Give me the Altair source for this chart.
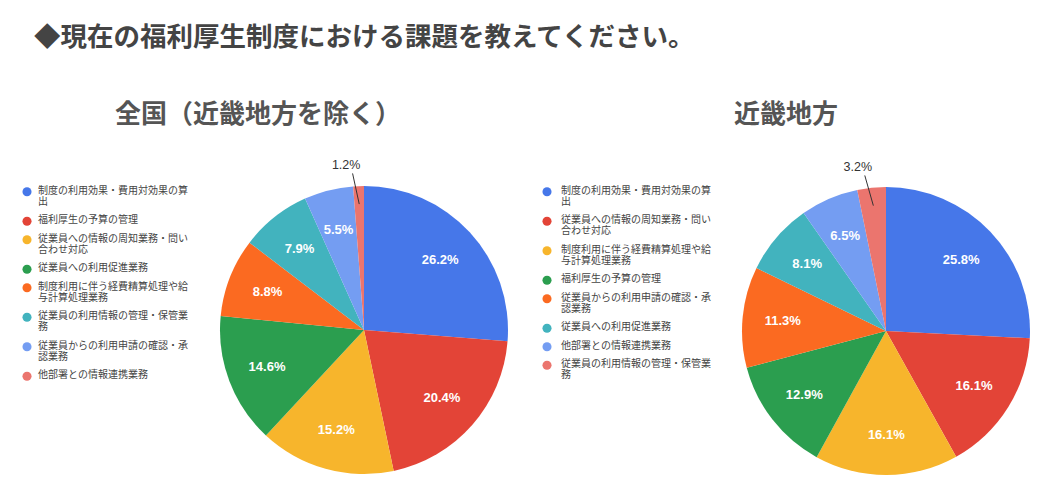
import altair as alt
import pandas as pd

title_text = "◆現在の福利厚生制度における課題を教えてください。"
subtitle_left = "全国（近畿地方を除く）"
subtitle_right = "近畿地方"

left_categories = [
    "制度の利用効果・費用対効果の算\n出",
    "福利厚生の予算の管理",
    "従業員への情報の周知業務・問い\n合わせ対応",
    "従業員への利用促進業務",
    "制度利用に伴う経費精算処理や給\n与計算処理業務",
    "従業員の利用情報の管理・保管業\n務",
    "従業員からの利用申請の確認・承\n認業務",
    "他部署との情報連携業務",
]
left_values = [26.2, 20.4, 15.2, 14.6, 8.8, 7.9, 5.5, 1.2]

right_categories = [
    "制度の利用効果・費用対効果の算\n出",
    "従業員への情報の周知業務・問い\n合わせ対応",
    "制度利用に伴う経費精算処理や給\n与計算処理業務",
    "福利厚生の予算の管理",
    "従業員からの利用申請の確認・承\n認業務",
    "従業員への利用促進業務",
    "他部署との情報連携業務",
    "従業員の利用情報の管理・保管業\n務",
]
right_values = [25.8, 16.1, 16.1, 12.9, 11.3, 8.1, 6.5, 3.2]

slice_colors = ["#4677e9", "#e34437", "#f7b52c", "#2b9e4f", "#fb6a21", "#42b3be", "#749df2", "#eb756e"]

FONT_JP = "Noto Sans CJK JP"
FONT_NUM = "Liberation Sans"


def make_df(cats, vals):
    return pd.DataFrame({
        "i": list(range(len(cats))),
        "cat": cats,
        "v": vals,
        "col": slice_colors[:len(cats)],
    })


def pie(cats, vals, cx, cy, r):
    df = make_df(cats, vals)
    base = alt.Chart(df).encode(
        theta=alt.Theta("v:Q", stack=True),
        order=alt.Order("i:Q", sort="ascending"),
    )
    arcs = base.mark_arc(radius=r).encode(
        x=alt.value(cx), y=alt.value(cy),
        color=alt.Color("col:N", scale=None),
    )
    labels = base.transform_calculate(
        lab="datum.v >= 5 ? format(datum.v, '.1f') + '%' : ''"
    ).mark_text(
        radius=r * 0.72, font=FONT_NUM, fontSize=13, fontWeight="bold", color="white"
    ).encode(x=alt.value(cx), y=alt.value(cy), text="lab:N")

    small = alt.Chart(df).transform_window(
        cum="sum(v)", sort=[alt.SortField("i")], frame=[None, 0]
    ).transform_joinaggregate(
        tot="sum(v)"
    ).transform_calculate(
        mid="2*PI*(datum.cum - datum.v/2)/datum.tot"
    ).transform_filter(
        "datum.v < 5"
    ).transform_calculate(
        lx=f"{cx} + 166*sin(datum.mid - 0.07)",
        ly=f"{cy} - 166*cos(datum.mid - 0.07)",
        ax=f"{cx} + 157*sin(datum.mid - 0.035)",
        ay=f"{cy} - 157*cos(datum.mid - 0.035)",
        bx=f"{cx} + 126*sin(datum.mid)",
        by=f"{cy} - 126*cos(datum.mid)",
        lab="format(datum.v, '.1f') + '%'",
    )
    out_text = small.mark_text(
        font=FONT_NUM, fontSize=12.5, color="#333333", baseline="middle"
    ).encode(
        x=alt.X("lx:Q", scale=None, axis=None),
        y=alt.Y("ly:Q", scale=None, axis=None),
        text="lab:N",
    )
    leader = small.mark_rule(color="#333333", strokeWidth=1).encode(
        x=alt.X("ax:Q", scale=None, axis=None),
        y=alt.Y("ay:Q", scale=None, axis=None),
        x2="bx:Q",
        y2="by:Q",
    )
    return alt.layer(arcs, labels, leader, out_text)


def legend(cats, x_dot, x_text, y0):
    df = make_df(cats, [0] * len(cats))
    base = alt.Chart(df).transform_calculate(
        n="length(split(datum.cat, '\\n'))"
    ).transform_window(
        cl="sum(n)", sort=[alt.SortField("i")], frame=[None, 0]
    ).transform_calculate(
        yy=f"{y0} + (datum.cl - datum.n)*11 + datum.i*7.5"
    )
    dots = base.mark_circle(size=82, opacity=1).encode(
        x=alt.value(x_dot),
        y=alt.Y("yy:Q", scale=None, axis=None),
        color=alt.Color("col:N", scale=None),
    )
    texts = base.mark_text(
        align="left", baseline="top", dy=-6, lineBreak="\n", lineHeight=11,
        font=FONT_JP, fontSize=10, color="#444444",
    ).encode(
        x=alt.value(x_text),
        y=alt.Y("yy:Q", scale=None, axis=None),
        text="cat:N",
    )
    return alt.layer(dots, texts)


def text_layer(txt, x, y, size, weight, color, align):
    return alt.Chart(pd.DataFrame({"t": [txt]})).mark_text(
        font=FONT_JP, fontSize=size, fontWeight=weight, color=color,
        align=align, baseline="middle",
    ).encode(x=alt.value(x), y=alt.value(y), text="t:N")


chart = alt.layer(
    text_layer(title_text, 26, 30, 26.5, "bold", "#444444", "left"),
    text_layer(subtitle_left, 250, 107, 26, "bold", "#555555", "center"),
    text_layer(subtitle_right, 778, 107, 26, "bold", "#555555", "center"),
    pie(left_categories, left_values, 356, 322, 144),
    pie(right_categories, right_values, 878, 323, 144),
    legend(left_categories, 19, 30, 183.7),
    legend(right_categories, 539, 553, 183.7),
).resolve_scale(
    theta="independent"
).properties(
    width=1035, height=480, padding=0, autosize="none", background="white"
).configure_view(stroke=None)

chart.save("out.html", embed_options={"renderer": "svg", "actions": False})
